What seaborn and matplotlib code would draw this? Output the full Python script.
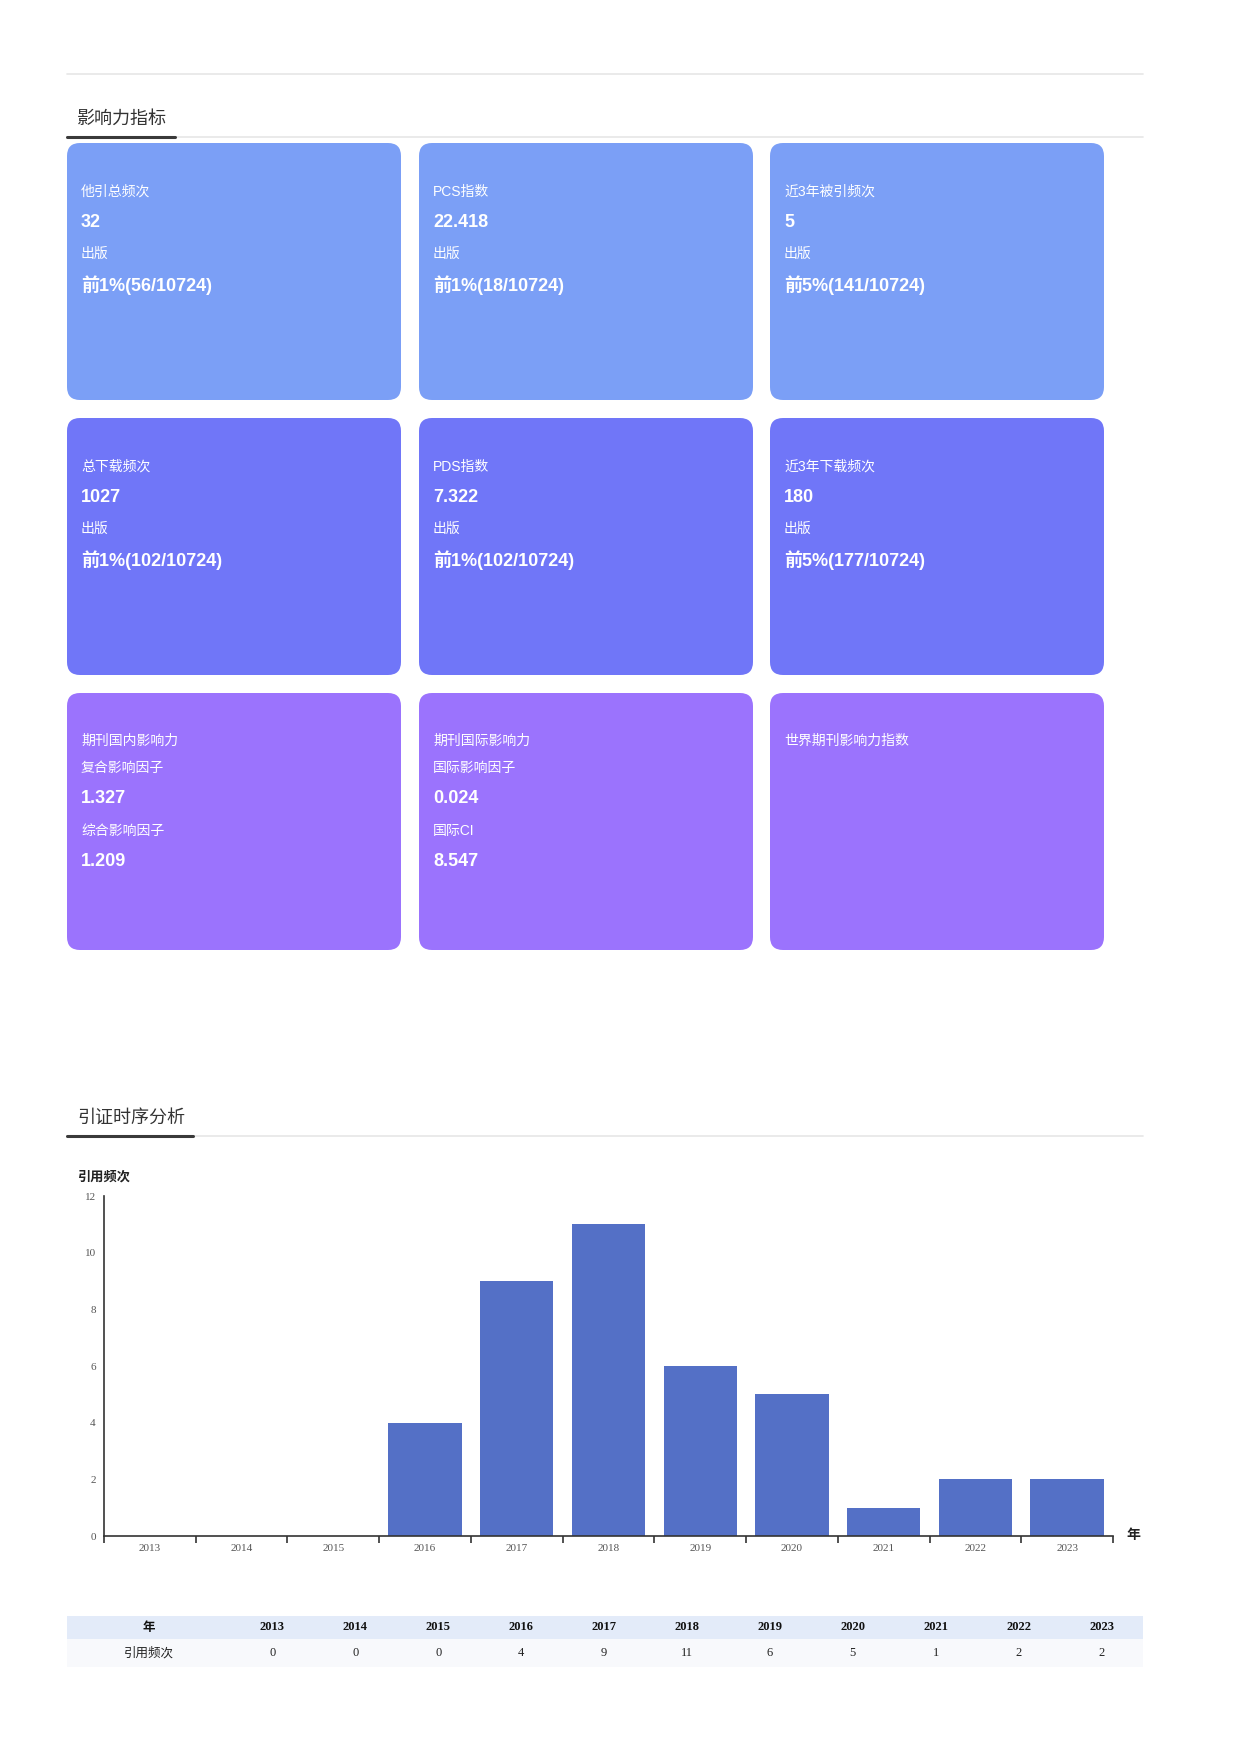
import matplotlib
matplotlib.use("Agg")
import matplotlib.pyplot as plt
from matplotlib.patches import FancyBboxPatch, Rectangle
import pandas as pd
import seaborn as sns

# ---- data ----
card_titles = ["他引总频次", "PCS指数", "近3年被引频次",
               "总下载频次", "PDS指数", "近3年下载频次"]
card_values = ["32", "22.418", "5", "1027", "7.322", "180"]
card_ranks = ["前1%(56/10724)", "前1%(18/10724)", "前5%(141/10724)",
              "前1%(102/10724)", "前1%(102/10724)", "前5%(177/10724)"]
impact_titles = ["期刊国内影响力", "期刊国际影响力", "世界期刊影响力指数"]
impact_names = [["复合影响因子", "综合影响因子"], ["国际影响因子", "国际CI"], []]
impact_values = [["1.327", "1.209"], ["0.024", "8.547"], []]

years = ["2013", "2014", "2015", "2016", "2017", "2018",
         "2019", "2020", "2021", "2022", "2023"]
cites = [0, 0, 0, 4, 9, 11, 6, 5, 1, 2, 2]

row_colors = ["#7b9ff6", "#7076f8", "#9b73fd"]
bar_color = "#5470c6"

W, H = 1241, 1755
sns.set_theme(style="white")
sans = ["Liberation Sans", "Noto Sans CJK SC"]
serif = ["Liberation Serif", "Noto Sans CJK SC"]
plt.rcParams["font.family"] = sans

fig = plt.figure(figsize=(W / 100, H / 100), dpi=100)
bg = fig.add_axes([0, 0, 1, 1])
bg.set_xlim(0, W)
bg.set_ylim(H, 0)
bg.axis("off")


def section_header(ax, y, title, underline_end):
    ax.plot([67, 1143], [y, y], color="#e6e6e6", lw=1.2)
    ax.plot([67, underline_end], [y, y], color="#3a3a3a", lw=2.2)
    ax.text(77, y - 18, title, fontsize=13, color="#333333",
            va="center", ha="left", family=sans)


# top separator
bg.plot([67, 1143], [74, 74], color="#e6e6e6", lw=1.2)
section_header(bg, 137, "影响力指标", 175)

# cards
card_x = [67, 419, 770]
card_y = [143, 418, 693]
cw, ch = 334, 257
for r in range(3):
    for c in range(3):
        x0, y0 = card_x[c], card_y[r]
        bg.add_patch(FancyBboxPatch((x0, y0), cw, ch,
                                    boxstyle="round,pad=0,rounding_size=13",
                                    fc=row_colors[r], ec="none"))
        tx = x0 + 14
        if r < 2:
            i = r * 3 + c
            bg.text(tx, y0 + 49, card_titles[i], color="white", fontsize=10,
                    va="center", family=sans)
            bg.text(tx, y0 + 79, card_values[i], color="white", fontsize=13,
                    fontweight="bold", va="center", family=sans)
            bg.text(tx, y0 + 111, "出版", color="white", fontsize=10,
                    va="center", family=sans)
            bg.text(tx, y0 + 142, card_ranks[i], color="white", fontsize=13,
                    fontweight="bold", va="center", family=sans)
        else:
            bg.text(tx, y0 + 48, impact_titles[c], color="white", fontsize=10,
                    va="center", family=sans)
            for k, (nm, val) in enumerate(zip(impact_names[c], impact_values[c])):
                bg.text(tx, y0 + 75 + k * 63, nm, color="white", fontsize=10,
                        va="center", family=sans)
                bg.text(tx, y0 + 105 + k * 63, val, color="white", fontsize=13,
                        fontweight="bold", va="center", family=sans)

# second section
section_header(bg, 1136, "引证时序分析", 193)
bg.text(77, 1177, "引用频次", fontsize=9.5, fontweight="bold", color="#222222",
        va="center", ha="left", family=sans)
bg.text(1126, 1536, "年", fontsize=10, fontweight="bold", color="#222222",
        va="center", ha="left", family=serif)

# bar chart
ax_l, ax_r, ax_t, ax_b = 104, 1113, 1196, 1536
ax = fig.add_axes([ax_l / W, 1 - ax_b / H, (ax_r - ax_l) / W, (ax_b - ax_t) / H])
df = pd.DataFrame({"year": years, "count": cites})
sns.barplot(data=df, x="year", y="count", color=bar_color, saturation=1,
            width=0.8, linewidth=0, ax=ax)
ax.set_xlim(-0.5, len(years) - 0.5)
ax.set_ylim(0, 12)
ax.set_yticks(range(0, 13, 2))
ax.set_xlabel("")
ax.set_ylabel("")
for s in ["top", "right"]:
    ax.spines[s].set_visible(False)
for s in ["left", "bottom"]:
    ax.spines[s].set_color("#333333")
    ax.spines[s].set_linewidth(1.2)
ax.set_xticks([i - 0.5 for i in range(len(years) + 1)], minor=True)
ax.tick_params(axis="x", which="major", length=0, pad=6)
ax.tick_params(axis="x", which="minor", length=5, width=1.2, color="#333333",
               direction="out", bottom=True)
ax.tick_params(axis="y", length=0, pad=6)
for lab in ax.get_xticklabels() + ax.get_yticklabels():
    lab.set_family(serif)
    lab.set_fontsize(8)
    lab.set_color("#555555")
ax.grid(False)
ax.patch.set_alpha(0)

# data table
tab_l, tab_r = 67, 1143
first_w = 164
col_w = (tab_r - tab_l - first_w) / len(years)
hdr_y, hdr_h, body_h = 1616, 23, 28
bg.add_patch(Rectangle((tab_l, hdr_y), tab_r - tab_l, hdr_h, fc="#e3ebf9", ec="none"))
bg.add_patch(Rectangle((tab_l, hdr_y + hdr_h), tab_r - tab_l, body_h, fc="#f8f9fc", ec="none"))
cx0 = tab_l + first_w / 2
bg.text(cx0, hdr_y + hdr_h / 2, "年", fontsize=9, fontweight="bold", color="#111111",
        ha="center", va="center", family=serif)
bg.text(cx0, hdr_y + hdr_h + body_h / 2, "引用频次", fontsize=9, color="#222222",
        ha="center", va="center", family=serif)
for i, (yr, n) in enumerate(zip(years, cites)):
    cx = tab_l + first_w + col_w * (i + 0.5)
    bg.text(cx, hdr_y + hdr_h / 2, yr, fontsize=9, fontweight="bold", color="#111111",
            ha="center", va="center", family=serif)
    bg.text(cx, hdr_y + hdr_h + body_h / 2, str(n), fontsize=9, color="#222222",
            ha="center", va="center", family=serif)

fig.savefig("out.png", dpi=100)
